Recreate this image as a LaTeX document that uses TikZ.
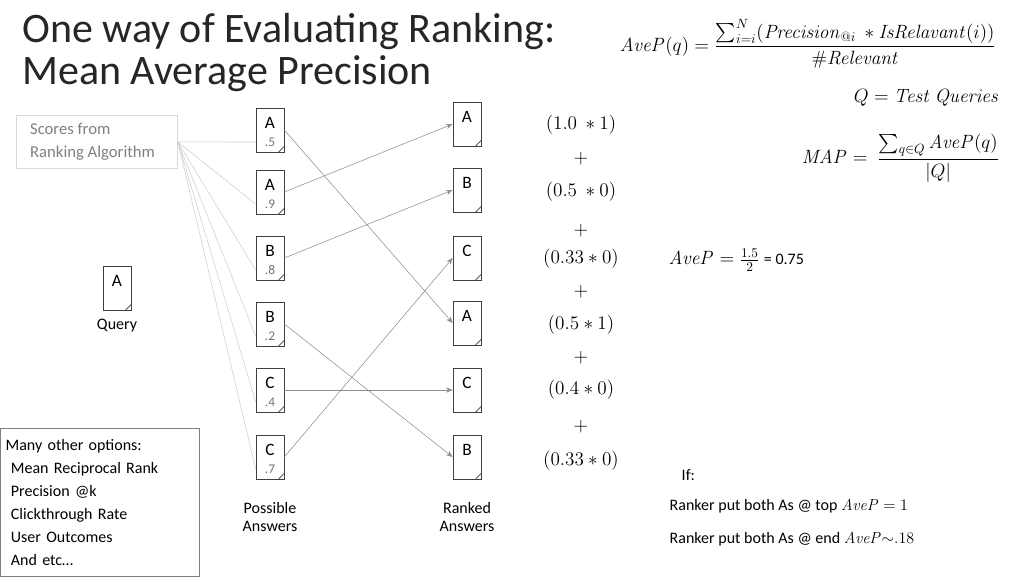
\documentclass[tikz,border=0pt]{standalone}
\usepackage{amsmath}
\usepackage[no-math]{fontspec}
\setmainfont{Carlito}
\usetikzlibrary{arrows.meta}
\begin{document}
\begin{tikzpicture}[x=0.75pt,y=-0.75pt,
  doc/.style={draw=black!75,line width=0.5pt,minimum width=21pt,minimum height=33pt,inner sep=0pt,
    path picture={\fill[white] (path picture bounding box.south east) -- ++(-4pt,0) -- ++(4pt,4pt) -- cycle;
      \draw[black!75] (path picture bounding box.south east) ++(-4pt,0) -- ++(4pt,4pt);}},
  lbl/.style={font=\fontsize{12}{14}\selectfont},
  dl/.style={font=\fontsize{13}{15}\selectfont},
  ml/.style={font=\fontsize{14}{16}\selectfont},
  conn/.style={draw=black!45,line width=0.4pt,-{Stealth[length=5pt,width=4pt]}},
  faint/.style={draw=black!20,line width=0.4pt}]
\useasboundingbox (0,0) rectangle (1024,576);
\node[anchor=west,font=\fontsize{31.5}{33}\selectfont,black!85,inner sep=0pt] (t1) at (22,32) {One way of Evaluating Ranking:};
\node[anchor=west,font=\fontsize{31.5}{33}\selectfont,black!85,inner sep=0pt] (t2) at (22,74) {Mean Average Precision};
\node[draw=black!15,anchor=north west,align=left,text=black!50,inner xsep=5pt,minimum width=121pt,minimum height=40pt,font=\fontsize{12.5}{17}\selectfont] (sc) at (16,115) {Scores from\hspace*{40pt}\\Ranking Algorithm};
% left docs
\foreach \n/\l/\s/\y in {l1/A/.5/130,l2/A/.9/192,l3/B/.8/258,l4/B/.2/324,l5/C/.4/390,l6/C/.7/457}{
  \node[doc] (\n) at (270,\y) {};
  \node[dl] at ([yshift=5pt]\n.center) {\l};
  \node[font=\fontsize{10}{12}\selectfont,text=black!55] at ([yshift=-9pt]\n.center) {\s};
}
\foreach \n/\l/\y in {r1/A/124,r2/B/190,r3/C/258,r4/A/323,r5/C/390,r6/B/457}{
  \node[doc] (\n) at (467,\y) {};
  \node[dl] at ([yshift=5pt]\n.center) {\l};
}
\foreach \n in {l1,l2,l3,l4,l5,l6}{\draw[faint] (sc.east) -- ([yshift=-9pt]\n.west);}
\draw[conn] (l1.east) -- (r4.west);
\draw[conn] (l2.east) -- (r1.west);
\draw[conn] (l3.east) -- (r2.west);
\draw[conn] (l4.east) -- (r6.west);
\draw[conn] (l5.east) -- (r5.west);
\draw[conn] (l6.east) -- (r3.west);
\node[doc] (q) at (117,288) {};
\node[dl] at ([yshift=5pt]q.center) {A};
\node[lbl] (ql) at (117,326) {Query};
\node[lbl,align=center] (pa) at (270,517) {Possible\\Answers};
\node[lbl,align=center] (ra) at (467,517) {Ranked\\Answers};
\node[draw=black!50,anchor=north west,align=left,text width=141pt,minimum height=111pt,inner xsep=4pt,inner ysep=3pt,font=\fontsize{12}{17.2}\selectfont] (opt) at (0,428) {Many other options:\\\ Mean Reciprocal Rank\\\ Precision @k\\\ Clickthrough Rate\\\ User Outcomes\\\ And etc\dots};
% sums
\foreach \t/\y in {{(1.0\ \ast 1)}/125,{+}/159,{(0.5\ \ast 0)}/192,{+}/231,{(0.33\ast 0)}/259,{+}/292,{(0.5\ast 1)}/325,{+}/358,{(0.4\ast 0)}/390,{+}/427,{(0.33\ast 0)}/461}
  \node[ml] at (581,\y) {$\t$};
\node[ml,anchor=west] (ap) at (664,260) {$\mathit{AveP}=\frac{1.5}{2}$ {\fontsize{12}{14}\selectfont= 0.75}};
\node[ml] (f1) at (808,44) {$\mathit{AveP}(q)=\dfrac{\sum_{i=i}^{N}(\mathit{Precision}_{@i}\ \ast \mathit{IsRelavant}(i))}{\#\mathit{Relevant}}$};
\node[ml,anchor=east] (f2) at (1004,98) {$Q=\mathit{Test\ Queries}$};
\node[ml,anchor=east] (f3) at (1004,158) {$\mathit{MAP}=\ \dfrac{\sum_{q\in Q}\mathit{AveP}(q)}{|Q|}$};
\node[lbl,anchor=west] (if) at (677,475) {If:};
\node[lbl,anchor=west] (r1t) at (665,506) {Ranker put both As @ top $\mathit{AveP}=1$};
\node[lbl,anchor=west] (r2t) at (665,539) {Ranker put both As @ end $\mathit{AveP}{\sim}.18$};
\end{tikzpicture}
\end{document}
